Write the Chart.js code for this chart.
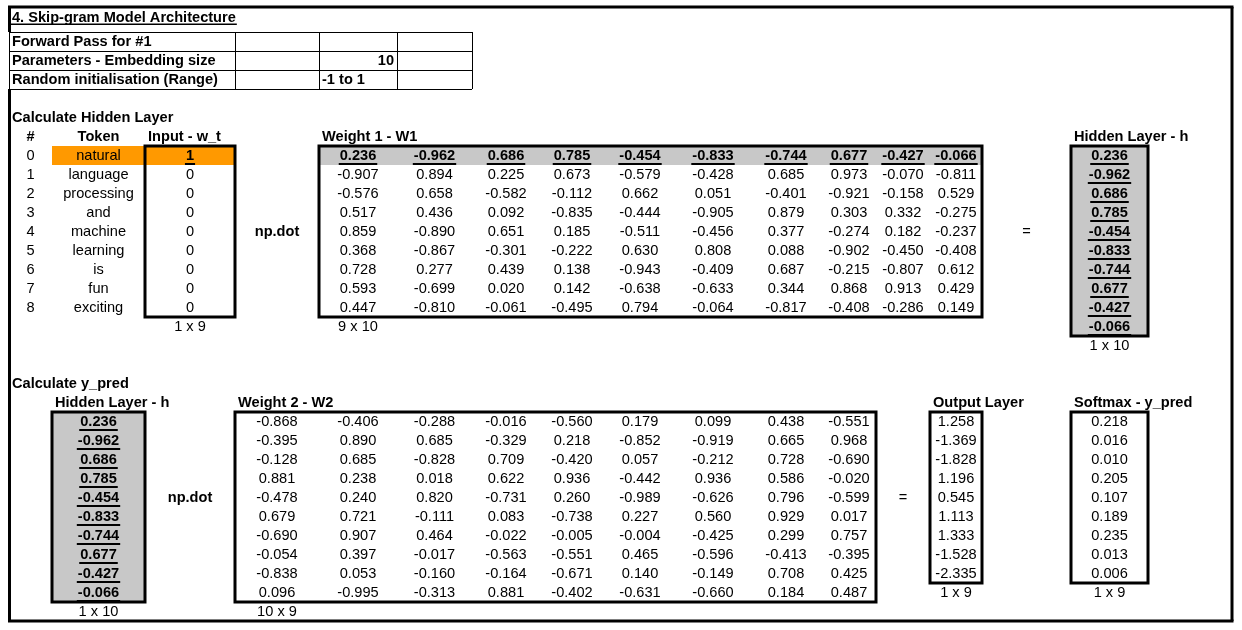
<!DOCTYPE html>
<html>
<head>
<meta charset="utf-8">
<title>Skip-gram Model Architecture</title>
<script src="https://cdn.jsdelivr.net/npm/chart.js@4/dist/chart.umd.min.js"></script>
<style>
  html, body { margin: 0; padding: 0; background: #ffffff; }
  canvas { display: block; }
</style>
</head>
<body>
<canvas id="sheet" width="1242" height="630"></canvas>
<script>
/* =========================
   SKIP-GRAM FORWARD PASS
   Feuille reproduite avec Chart.js (scatter + plugin texte)
========================= */

/* -------------------------------------------------
   DONNÉES
------------------------------------------------- */

const TITLE        = "4. Skip-gram Model Architecture";
const PARAM_LABELS = ["Forward Pass for #1", "Parameters - Embedding size", "Random initialisation (Range)"];
const PARAM_VALUES = ["", "10", "-1 to 1"];

const TOKENS    = ["natural", "language", "processing", "and", "machine", "learning", "is", "fun", "exciting"];
const INPUT_VEC = [1, 0, 0, 0, 0, 0, 0, 0, 0];

const W1 = [
  [ 0.236, -0.962,  0.686,  0.785, -0.454, -0.833, -0.744,  0.677, -0.427, -0.066],
  [-0.907,  0.894,  0.225,  0.673, -0.579, -0.428,  0.685,  0.973, -0.070, -0.811],
  [-0.576,  0.658, -0.582, -0.112,  0.662,  0.051, -0.401, -0.921, -0.158,  0.529],
  [ 0.517,  0.436,  0.092, -0.835, -0.444, -0.905,  0.879,  0.303,  0.332, -0.275],
  [ 0.859, -0.890,  0.651,  0.185, -0.511, -0.456,  0.377, -0.274,  0.182, -0.237],
  [ 0.368, -0.867, -0.301, -0.222,  0.630,  0.808,  0.088, -0.902, -0.450, -0.408],
  [ 0.728,  0.277,  0.439,  0.138, -0.943, -0.409,  0.687, -0.215, -0.807,  0.612],
  [ 0.593, -0.699,  0.020,  0.142, -0.638, -0.633,  0.344,  0.868,  0.913,  0.429],
  [ 0.447, -0.810, -0.061, -0.495,  0.794, -0.064, -0.817, -0.408, -0.286,  0.149]
];

const HIDDEN = [0.236, -0.962, 0.686, 0.785, -0.454, -0.833, -0.744, 0.677, -0.427, -0.066];

const W2 = [
  [-0.868, -0.406, -0.288, -0.016, -0.560,  0.179,  0.099,  0.438, -0.551],
  [-0.395,  0.890,  0.685, -0.329,  0.218, -0.852, -0.919,  0.665,  0.968],
  [-0.128,  0.685, -0.828,  0.709, -0.420,  0.057, -0.212,  0.728, -0.690],
  [ 0.881,  0.238,  0.018,  0.622,  0.936, -0.442,  0.936,  0.586, -0.020],
  [-0.478,  0.240,  0.820, -0.731,  0.260, -0.989, -0.626,  0.796, -0.599],
  [ 0.679,  0.721, -0.111,  0.083, -0.738,  0.227,  0.560,  0.929,  0.017],
  [-0.690,  0.907,  0.464, -0.022, -0.005, -0.004, -0.425,  0.299,  0.757],
  [-0.054,  0.397, -0.017, -0.563, -0.551,  0.465, -0.596, -0.413, -0.395],
  [-0.838,  0.053, -0.160, -0.164, -0.671,  0.140, -0.149,  0.708,  0.425],
  [ 0.096, -0.995, -0.313,  0.881, -0.402, -0.631, -0.660,  0.184,  0.487]
];

const OUTPUT_LAYER = [1.258, -1.369, -1.828, 1.196, 0.545, 1.113, 1.333, -1.528, -2.335];
const SOFTMAX      = [0.218, 0.016, 0.010, 0.205, 0.107, 0.189, 0.235, 0.013, 0.006];

/* -------------------------------------------------
   MISE EN PAGE (colonnes / lignes de la feuille)
------------------------------------------------- */

const COL_EDGES = [9, 52, 145, 235, 319, 397, 472, 540, 604, 676, 750, 822, 876, 930, 982, 1071, 1148, 1233];
const ROW_TOP   = 32;
const ROW_H     = 19;
const FONT      = '"Liberation Sans", Arial, sans-serif';
const FONT_SIZE = 14.6;
const GRAY      = "#c8c8c8";
const ORANGE    = "#ff9900";

const colMid  = c => (COL_EDGES[c] + COL_EDGES[c + 1]) / 2;
const rowTop  = r => ROW_TOP + ROW_H * r;
const rowMid  = r => rowTop(r) + ROW_H / 2;
const fmt     = v => Number(v).toFixed(3);

/* -------------------------------------------------
   CELLULES (texte) -> points du dataset
------------------------------------------------- */

const cells = [];

function put(col, row, text, opts = {}) {
  const align = opts.align || "center";
  let x = colMid(col);
  if (align === "left")  x = COL_EDGES[col] + 3;
  if (align === "right") x = COL_EDGES[col + 1] - 3;
  cells.push({ x, y: rowMid(row), text: String(text), align, bold: !!opts.bold, under: !!opts.under });
}

// titre
cells.push({ x: 12, y: 17, text: TITLE, align: "left", bold: true, under: true, thin: true });

// paramètres
PARAM_LABELS.forEach((t, i) => put(0, i, t, { align: "left", bold: true }));
put(4, 1, PARAM_VALUES[1], { align: "right", bold: true });
put(4, 2, PARAM_VALUES[2], { align: "left", bold: true });

// couche cachée
put(0, 4, "Calculate Hidden Layer", { align: "left", bold: true });
put(0, 5, "#", { bold: true });
put(1, 5, "Token", { bold: true });
put(2, 5, "Input - w_t", { align: "left", bold: true });
put(4, 5, "Weight 1 - W1", { align: "left", bold: true });
put(15, 5, "Hidden Layer - h", { align: "left", bold: true });

TOKENS.forEach((tok, i) => {
  put(0, 6 + i, i);
  put(1, 6 + i, tok);
  put(2, 6 + i, INPUT_VEC[i], { bold: INPUT_VEC[i] === 1, under: INPUT_VEC[i] === 1 });
  W1[i].forEach((v, j) => put(4 + j, 6 + i, fmt(v), { bold: i === 0, under: i === 0 }));
});
HIDDEN.forEach((v, i) => put(15, 6 + i, fmt(v), { bold: true, under: true }));

put(3, 10, "np.dot", { bold: true });
put(14, 10, "=");
put(2, 15, `1 x ${TOKENS.length}`);
put(4, 15, `${W1.length} x ${W1[0].length}`);
put(15, 16, `1 x ${HIDDEN.length}`);

// y_pred
put(0, 18, "Calculate y_pred", { align: "left", bold: true });
put(1, 19, "Hidden Layer - h", { align: "left", bold: true });
put(3, 19, "Weight 2 - W2", { align: "left", bold: true });
put(13, 19, "Output Layer", { align: "left", bold: true });
put(15, 19, "Softmax - y_pred", { align: "left", bold: true });

HIDDEN.forEach((v, i) => put(1, 20 + i, fmt(v), { bold: true, under: true }));
W2.forEach((row, i) => row.forEach((v, j) => put(3 + j, 20 + i, fmt(v))));
OUTPUT_LAYER.forEach((v, i) => put(13, 20 + i, fmt(v)));
SOFTMAX.forEach((v, i) => put(15, 20 + i, fmt(v)));

put(2, 24, "np.dot", { bold: true });
put(12, 24, "=");
put(1, 30, `1 x ${HIDDEN.length}`);
put(3, 30, `${W2.length} x ${W2[0].length}`);
put(13, 29, `1 x ${OUTPUT_LAYER.length}`);
put(15, 29, `1 x ${SOFTMAX.length}`);

/* -------------------------------------------------
   ZONES : remplissages et cadres (col début, col fin, ligne début, ligne fin)
------------------------------------------------- */

const FILLS = [
  { c0: 1,  c1: 2,  r0: 6,  r1: 6,  color: ORANGE },
  { c0: 4,  c1: 13, r0: 6,  r1: 6,  color: GRAY },
  { c0: 15, c1: 15, r0: 6,  r1: 15, color: GRAY },
  { c0: 1,  c1: 1,  r0: 20, r1: 29, color: GRAY }
];

const BOXES = [
  { c0: 2,  c1: 2,  r0: 6,  r1: 14 },
  { c0: 4,  c1: 13, r0: 6,  r1: 14 },
  { c0: 15, c1: 15, r0: 6,  r1: 15 },
  { c0: 1,  c1: 1,  r0: 20, r1: 29 },
  { c0: 3,  c1: 11, r0: 20, r1: 29 },
  { c0: 13, c1: 13, r0: 20, r1: 28 },
  { c0: 15, c1: 15, r0: 20, r1: 28 }
];

/* -------------------------------------------------
   PLUGIN DE DESSIN
------------------------------------------------- */

function rectPx(chart, z) {
  const sx = chart.scales.x, sy = chart.scales.y;
  const x0 = sx.getPixelForValue(COL_EDGES[z.c0]);
  const x1 = sx.getPixelForValue(COL_EDGES[z.c1 + 1]);
  const y0 = sy.getPixelForValue(rowTop(z.r0));
  const y1 = sy.getPixelForValue(rowTop(z.r1 + 1));
  return [x0, y0, x1 - x0, y1 - y0];
}

function line(ctx, x0, y0, x1, y1, w) {
  ctx.lineWidth = w;
  ctx.beginPath();
  ctx.moveTo(x0, y0);
  ctx.lineTo(x1, y1);
  ctx.stroke();
}

const sheetPlugin = {
  id: "sheet",

  beforeDatasetsDraw(chart) {
    const ctx = chart.ctx, sx = chart.scales.x, sy = chart.scales.y;
    ctx.save();
    FILLS.forEach(f => {
      ctx.fillStyle = f.color;
      ctx.fillRect(...rectPx(chart, f));
    });

    // tableau des paramètres (grille fine)
    ctx.strokeStyle = "#000";
    const gx = [COL_EDGES[0], COL_EDGES[3], COL_EDGES[4], COL_EDGES[5], COL_EDGES[6]].map(v => sx.getPixelForValue(v));
    for (let r = 0; r <= 3; r++) {
      const y = Math.round(sy.getPixelForValue(rowTop(r))) + 0.5;
      line(ctx, gx[0], y, gx[gx.length - 1], y, 1);
    }
    gx.forEach(x => {
      const xx = Math.round(x) + 0.5;
      line(ctx, xx, sy.getPixelForValue(rowTop(0)), xx, sy.getPixelForValue(rowTop(3)), 1);
    });
    ctx.restore();
  },

  afterDatasetsDraw(chart) {
    const ctx  = chart.ctx, sx = chart.scales.x, sy = chart.scales.y;
    const meta = chart.getDatasetMeta(0);
    ctx.save();
    ctx.fillStyle   = "#000";
    ctx.strokeStyle = "#000";
    ctx.textBaseline = "alphabetic";

    meta.data.forEach((pt, i) => {
      const c = cells[i];
      ctx.font = `${c.bold ? "bold " : ""}${FONT_SIZE}px ${FONT}`;
      ctx.textAlign = c.align;
      const base = pt.y + 4.5;
      ctx.fillText(c.text, pt.x, base);
      if (c.under) {
        const w  = ctx.measureText(c.text).width;
        let x0 = pt.x - w / 2;
        if (c.align === "left")  x0 = pt.x;
        if (c.align === "right") x0 = pt.x - w;
        ctx.fillRect(x0 - 1, base + (c.thin ? 2 : 3), w + 2, c.thin ? 1.5 : 2);
      }
    });

    // cadres épais
    ctx.lineWidth = 3;
    BOXES.forEach(b => ctx.strokeRect(...rectPx(chart, b)));

    // bordure extérieure (interrompue à gauche au niveau du tableau des paramètres)
    const L = sx.getPixelForValue(9.5), R = sx.getPixelForValue(1232);
    const T = sy.getPixelForValue(7),   B = sy.getPixelForValue(621);
    line(ctx, L - 1.5, T, R + 1.5, T, 3);
    line(ctx, R, T, R, B, 3);
    line(ctx, L - 1.5, B, R + 1.5, B, 3);
    line(ctx, L, T, L, sy.getPixelForValue(rowTop(0)), 3);
    line(ctx, L, sy.getPixelForValue(rowTop(3)), L, B, 3);
    ctx.restore();
  }
};

/* -------------------------------------------------
   GRAPHIQUE
------------------------------------------------- */

new Chart(document.getElementById("sheet"), {
  type: "scatter",
  data: {
    datasets: [{
      label: "cells",
      data: cells,
      pointRadius: 0,
      pointHoverRadius: 0
    }]
  },
  options: {
    responsive: false,
    animation: false,
    devicePixelRatio: 1,
    layout: { padding: 0 },
    events: [],
    plugins: {
      legend:  { display: false },
      tooltip: { enabled: false }
    },
    scales: {
      x: { type: "linear", min: 0, max: 1242, display: false },
      y: { type: "linear", min: 0, max: 630, reverse: true, display: false }
    }
  },
  plugins: [sheetPlugin]
});
</script>
</body>
</html>
